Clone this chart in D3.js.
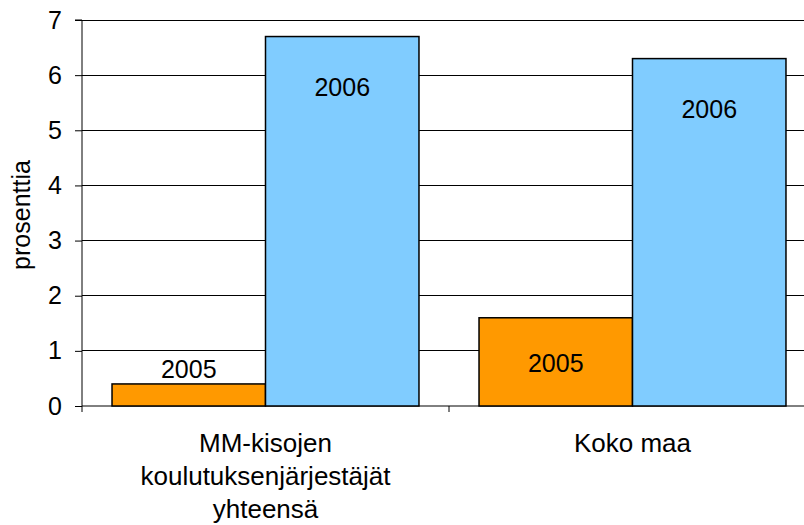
<!DOCTYPE html>
<html>
<head>
<meta charset="utf-8">
<script src="https://cdn.jsdelivr.net/npm/d3@7"></script>
<style>
  body { margin: 0; background: #fff; }
  svg { display: block; font-family: "Liberation Sans", Arial, sans-serif; }
</style>
</head>
<body>
<script>
const categories = [["MM-kisojen", "koulutuksenjärjestäjät", "yhteensä"], ["Koko maa"]];
const years = ["2005", "2006"];
const values2005 = [0.4, 1.6];
const values2006 = [6.7, 6.3];
const yTicks = [0, 1, 2, 3, 4, 5, 6, 7];
const colors = ["#FF9900", "#80CCFF"];

const width = 804, height = 525;
const plotLeft = 82, plotRight = 816, plotTop = 20, plotBottom = 406;

const svg = d3.select("body").append("svg")
  .attr("width", width)
  .attr("height", height);

const x = d3.scaleBand()
  .domain(d3.range(categories.length))
  .range([plotLeft, plotRight]);

const y = d3.scaleLinear().domain([0, 7]).range([plotBottom, plotTop]);

// gridlines
svg.append("g")
  .selectAll("line")
  .data(yTicks.filter(d => d > 0))
  .join("line")
  .attr("x1", plotLeft).attr("x2", plotRight)
  .attr("y1", d => y(d)).attr("y2", d => y(d))
  .attr("stroke", "#000").attr("stroke-width", 1)
  .attr("shape-rendering", "crispEdges");

// y axis
const yAxis = svg.append("g")
  .attr("transform", `translate(${plotLeft},0)`)
  .call(d3.axisLeft(y).tickValues(yTicks).tickSize(7).tickPadding(13).tickFormat(d3.format("d")));
yAxis.selectAll("text").style("font-size", "25px").attr("fill", "#000");
yAxis.selectAll("line").attr("stroke", "#000");
yAxis.select(".domain").attr("stroke", "#000").attr("d", `M-7,${plotTop}H0V${plotBottom + 6}`);

// x axis
const xAxis = svg.append("g")
  .attr("transform", `translate(0,${plotBottom})`);
xAxis.append("line")
  .attr("x1", plotLeft).attr("x2", plotRight)
  .attr("stroke", "#000").attr("stroke-width", 1);
xAxis.selectAll("line.tick")
  .data(d3.range(1, categories.length))
  .join("line")
  .attr("class", "tick")
  .attr("x1", d => x(d)).attr("x2", d => x(d))
  .attr("y1", 0).attr("y2", 6)
  .attr("stroke", "#000");

// bars
const series = [values2005, values2006];
const rows = [];
categories.forEach((c, i) => {
  years.forEach((yr, j) => rows.push({ cat: i, year: yr, value: series[j][i], idx: j }));
});

const innerPad = x.bandwidth() * 0.0818;
const barW = (x.bandwidth() - 2 * innerPad) / 2;
const barX = d => x(d.cat) + innerPad + d.idx * barW;

svg.append("g")
  .selectAll("rect")
  .data(rows)
  .join("rect")
  .attr("x", barX)
  .attr("y", d => y(d.value))
  .attr("width", barW)
  .attr("height", d => y(0) - y(d.value))
  .attr("fill", d => colors[d.idx])
  .attr("stroke", "#000")
  .attr("stroke-width", 1.5);

// bar labels
svg.append("g")
  .selectAll("text")
  .data(rows)
  .join("text")
  .attr("x", d => barX(d) + barW / 2)
  .attr("y", d => {
    const h = y(0) - y(d.value);
    if (h < 40) return y(d.value) - 6;
    return y(d.value) + Math.min(h / 2 + 10, 59);
  })
  .attr("text-anchor", "middle")
  .style("font-size", "25px")
  .attr("fill", "#000")
  .text(d => d.year);

// category labels
const catG = svg.append("g");
categories.forEach((lines, i) => {
  const cx = x(i) + x.bandwidth() / 2;
  const t = catG.append("text")
    .attr("text-anchor", "middle")
    .attr("x", cx)
    .attr("y", 452)
    .style("font-size", "26px")
    .attr("fill", "#000");
  lines.forEach((ln, k) => {
    t.append("tspan")
      .attr("x", cx)
      .attr("dy", k === 0 ? 0 : 33)
      .text(ln);
  });
});

// y title
svg.append("text")
  .attr("transform", `translate(30,${(plotTop + plotBottom) / 2 + 2}) rotate(-90)`)
  .attr("text-anchor", "middle")
  .style("font-size", "25px")
  .attr("fill", "#000")
  .text("prosenttia");
</script>
</body>
</html>
